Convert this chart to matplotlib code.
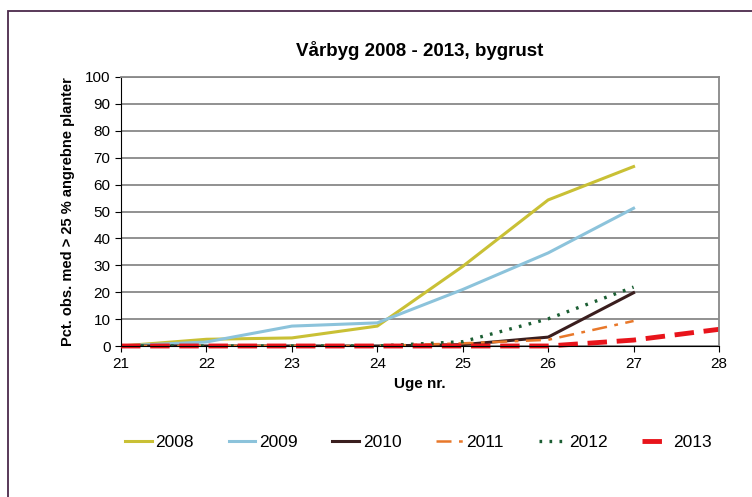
import matplotlib.pyplot as plt
from matplotlib.patches import Rectangle

plt.rcParams['font.family'] = ['Liberation Sans', 'DejaVu Sans']

weeks = [21, 22, 23, 24, 25, 26, 27]
weeks_2013 = [21, 22, 23, 24, 25, 26, 27, 28]

y2008 = [0, 2.5, 3, 7.4, 29.6, 54.3, 66.7]
y2009 = [0, 1.5, 7.4, 8.6, 21, 34.6, 51.2]
y2010 = [0, 0, 0, 0, 0.5, 3.3, 19.8]
y2011 = [0, 0, 0, 0, 1, 2.3, 9.3]
y2012 = [0, 0, 0, 0, 1.6, 10.1, 21.9]
y2013 = [0, 0, 0, 0, 0, 0, 2.2, 6.2]

fig = plt.figure(figsize=(7.52, 4.97), dpi=100)
ax = fig.add_axes([121 / 752, 1 - 346 / 497, (719 - 121) / 752, (346 - 77) / 497])

ax.plot(weeks, y2008, color='#C9C035', lw=2.2, label='2008')
ax.plot(weeks, y2009, color='#8CC3DB', lw=2.2, label='2009')
ax.plot(weeks, y2010, color='#3A1E1E', lw=2.2, label='2010')
ax.plot(weeks, y2011, color='#E8782A', lw=1.8, dashes=(6, 3, 1.5, 3), label='2011')
ax.plot(weeks, y2012, color='#1B5E33', lw=2.4, dashes=(0.8, 2.2), label='2012')
ax.plot(weeks_2013, y2013, color='#E8141B', lw=3.5, dashes=(4, 2), label='2013', clip_on=False)

ax.set_xlim(21, 28)
ax.set_ylim(0, 100)
ax.set_xticks(range(21, 29))
ax.set_yticks(range(0, 101, 10))
ax.yaxis.grid(True, color='#888888', lw=1.3)
ax.set_axisbelow(True)
ax.tick_params(labelsize=11, length=4, width=0.8)
ax.tick_params(axis='x', pad=4)
ax.spines['top'].set_color('#888888')
ax.spines['right'].set_color('#888888')
ax.spines['top'].set_linewidth(1.3)
ax.spines['right'].set_linewidth(1.3)

ax.set_xlabel('Uge nr.', fontsize=11, fontweight='bold', labelpad=4)
ax.set_ylabel('Pct. obs. med > 25 % angrebne planter', fontsize=10.5, fontweight='bold', labelpad=7)
ax.set_title('Vårbyg 2008 - 2013, bygrust', fontsize=13.5, fontweight='bold', pad=15)

fig.legend(loc='center', bbox_to_anchor=(0.556, 1 - 442 / 497), ncol=6, frameon=False,
           fontsize=12.5, handlelength=1.55, handletextpad=0.2, columnspacing=2.0)

fig.patches.append(Rectangle((8 / 752, -0.1), 1.2, 1.1 - 11 / 497, transform=fig.transFigure,
                             fill=False, edgecolor='#4B2A4B', lw=1.3))

fig.savefig('out.png', dpi=100)
